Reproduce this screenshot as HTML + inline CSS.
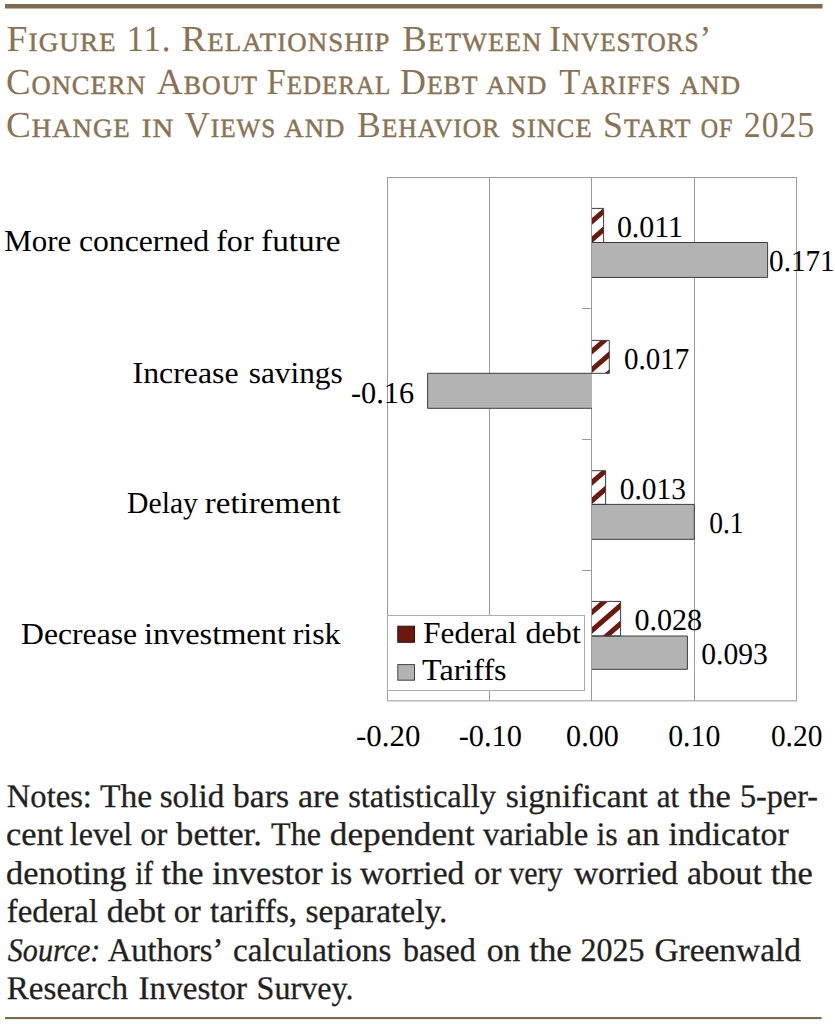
<!DOCTYPE html>
<html lang="en"><head><meta charset="utf-8"><title>Figure 11</title>
<style>
html,body{margin:0;padding:0;background:#fff;}
body{width:835px;height:1024px;overflow:hidden;font-family:"Liberation Serif",serif;}
svg{display:block;position:absolute;left:0;top:0;}
text{font-family:"Liberation Serif",serif;white-space:pre;text-rendering:geometricPrecision;}
.t{fill:#8a7352;}
.n{fill:#231f20;font-size:33px;stroke:#231f20;stroke-width:0.3px;}
.c{fill:#000;font-size:30.4px;}
</style></head><body>
<svg width="835" height="1024" viewBox="0 0 835 1024">
<rect x="0" y="0" width="835" height="1024" fill="#ffffff"/>
<rect x="5" y="4" width="817.5" height="4.5" fill="#7f6a4c"/>
<rect x="5" y="1017" width="816.6" height="2.1" fill="#7f6a4c"/>
<text class="t" x="6.6" y="50.7" letter-spacing="1" textLength="110.0" lengthAdjust="spacingAndGlyphs"><tspan font-size="36.6">F</tspan><tspan font-size="26.3" stroke="#8a7352" stroke-width="0.45">IGURE</tspan></text>
<text class="t" x="126.4" y="50.7" letter-spacing="1" textLength="45.1" lengthAdjust="spacingAndGlyphs"><tspan font-size="36.6">11.</tspan></text>
<text class="t" x="181.3" y="50.7" letter-spacing="1" textLength="209.3" lengthAdjust="spacingAndGlyphs"><tspan font-size="36.6">R</tspan><tspan font-size="26.3" stroke="#8a7352" stroke-width="0.45">ELATIONSHIP</tspan></text>
<text class="t" x="402.3" y="50.7" letter-spacing="1" textLength="139.9" lengthAdjust="spacingAndGlyphs"><tspan font-size="36.6">B</tspan><tspan font-size="26.3" stroke="#8a7352" stroke-width="0.45">ETWEEN</tspan></text>
<text class="t" x="549.2" y="50.7" letter-spacing="1" textLength="162.9" lengthAdjust="spacingAndGlyphs"><tspan font-size="36.6">I</tspan><tspan font-size="26.3" stroke="#8a7352" stroke-width="0.45">NVESTORS</tspan><tspan font-size="36.6">’</tspan></text>
<text class="t" x="5.9" y="93.8" letter-spacing="1" textLength="140.6" lengthAdjust="spacingAndGlyphs"><tspan font-size="36.6">C</tspan><tspan font-size="26.3" stroke="#8a7352" stroke-width="0.45">ONCERN</tspan></text>
<text class="t" x="156.8" y="93.8" letter-spacing="1" textLength="101.3" lengthAdjust="spacingAndGlyphs"><tspan font-size="36.6">A</tspan><tspan font-size="26.3" stroke="#8a7352" stroke-width="0.45">BOUT</tspan></text>
<text class="t" x="266.5" y="93.8" letter-spacing="1" textLength="124.8" lengthAdjust="spacingAndGlyphs"><tspan font-size="36.6">F</tspan><tspan font-size="26.3" stroke="#8a7352" stroke-width="0.45">EDERAL</tspan></text>
<text class="t" x="400.0" y="93.8" letter-spacing="1" textLength="78.5" lengthAdjust="spacingAndGlyphs"><tspan font-size="36.6">D</tspan><tspan font-size="26.3" stroke="#8a7352" stroke-width="0.45">EBT</tspan></text>
<text class="t" x="486.2" y="93.8" letter-spacing="1" textLength="61.2" lengthAdjust="spacingAndGlyphs"><tspan font-size="26.3" stroke="#8a7352" stroke-width="0.45">AND</tspan></text>
<text class="t" x="559.3" y="93.8" letter-spacing="1" textLength="112.0" lengthAdjust="spacingAndGlyphs"><tspan font-size="36.6">T</tspan><tspan font-size="26.3" stroke="#8a7352" stroke-width="0.45">ARIFFS</tspan></text>
<text class="t" x="680.0" y="93.8" letter-spacing="1" textLength="61.1" lengthAdjust="spacingAndGlyphs"><tspan font-size="26.3" stroke="#8a7352" stroke-width="0.45">AND</tspan></text>
<text class="t" x="5.9" y="137.1" letter-spacing="1" textLength="124.8" lengthAdjust="spacingAndGlyphs"><tspan font-size="36.6">C</tspan><tspan font-size="26.3" stroke="#8a7352" stroke-width="0.45">HANGE</tspan></text>
<text class="t" x="141.7" y="137.1" letter-spacing="1" textLength="32.6" lengthAdjust="spacingAndGlyphs"><tspan font-size="26.3" stroke="#8a7352" stroke-width="0.45">IN</tspan></text>
<text class="t" x="184.6" y="137.1" letter-spacing="1" textLength="91.5" lengthAdjust="spacingAndGlyphs"><tspan font-size="36.6">V</tspan><tspan font-size="26.3" stroke="#8a7352" stroke-width="0.45">IEWS</tspan></text>
<text class="t" x="284.3" y="137.1" letter-spacing="1" textLength="61.1" lengthAdjust="spacingAndGlyphs"><tspan font-size="26.3" stroke="#8a7352" stroke-width="0.45">AND</tspan></text>
<text class="t" x="357.1" y="137.1" letter-spacing="1" textLength="143.2" lengthAdjust="spacingAndGlyphs"><tspan font-size="36.6">B</tspan><tspan font-size="26.3" stroke="#8a7352" stroke-width="0.45">EHAVIOR</tspan></text>
<text class="t" x="511.3" y="137.1" letter-spacing="1" textLength="81.2" lengthAdjust="spacingAndGlyphs"><tspan font-size="26.3" stroke="#8a7352" stroke-width="0.45">SINCE</tspan></text>
<text class="t" x="603.1" y="137.1" letter-spacing="1" textLength="88.4" lengthAdjust="spacingAndGlyphs"><tspan font-size="36.6">S</tspan><tspan font-size="26.3" stroke="#8a7352" stroke-width="0.45">TART</tspan></text>
<text class="t" x="700.8" y="137.1" letter-spacing="1" textLength="32.6" lengthAdjust="spacingAndGlyphs"><tspan font-size="26.3" stroke="#8a7352" stroke-width="0.45">OF</tspan></text>
<text class="t" x="743.8" y="137.1" letter-spacing="1" textLength="71.4" lengthAdjust="spacingAndGlyphs"><tspan font-size="36.6">2025</tspan></text>
<rect x="387" y="177" width="410" height="1" fill="#9b9b9b"/>
<rect x="387" y="177" width="1" height="524" fill="#9b9b9b"/>
<rect x="796" y="177" width="1" height="524" fill="#a0a0a0"/>
<rect x="387" y="700.3" width="410" height="1.1" fill="#a0a0a0"/>
<rect x="489" y="177" width="1" height="524" fill="#9b9b9b"/>
<rect x="694" y="177" width="1" height="524" fill="#9b9b9b"/>
<rect x="591" y="177" width="1" height="524" fill="#9b9b9b"/>
<rect x="582" y="308" width="10" height="1" fill="#9b9b9b"/>
<rect x="582" y="439" width="10" height="1" fill="#9b9b9b"/>
<rect x="582" y="570" width="10" height="1" fill="#9b9b9b"/>
<clipPath id="c0"><rect x="592.0" y="208.4" width="11.6" height="34.1"/></clipPath>
<rect x="592.0" y="208.4" width="11.6" height="34.1" fill="#fff"/>
<g clip-path="url(#c0)" stroke="#6e170c" stroke-width="5.0"><line x1="582.0" y1="230.10" x2="652.0" y2="169.20"/><line x1="582.0" y1="248.30" x2="652.0" y2="187.40"/><line x1="582.0" y1="266.50" x2="652.0" y2="205.60"/><line x1="582.0" y1="284.70" x2="652.0" y2="223.80"/></g>
<rect x="592.0" y="242.5" width="175.6" height="34.9" fill="#b3b3b3"/>
<path d="M592.0 242.5H767.6V277.4H592.0" fill="none" stroke="#3c3c3c" stroke-width="1"/>
<path d="M592.0 208.4H603.6V242.5H592.0" fill="none" stroke="#3c3c3c" stroke-width="1"/>
<clipPath id="c1"><rect x="592.0" y="340.4" width="17.3" height="32.9"/></clipPath>
<rect x="592.0" y="340.4" width="17.3" height="32.9" fill="#fff"/>
<g clip-path="url(#c1)" stroke="#6e170c" stroke-width="5.0"><line x1="582.0" y1="360.00" x2="652.0" y2="299.10"/><line x1="582.0" y1="378.20" x2="652.0" y2="317.30"/><line x1="582.0" y1="396.40" x2="652.0" y2="335.50"/><line x1="582.0" y1="414.60" x2="652.0" y2="353.70"/></g>
<rect x="427.6" y="373.3" width="164.4" height="35.0" fill="#b3b3b3"/>
<path d="M592.0 373.3H427.6V408.3H592.0" fill="none" stroke="#3c3c3c" stroke-width="1"/>
<path d="M592.0 340.4H609.3V373.3H592.0" fill="none" stroke="#3c3c3c" stroke-width="1"/>
<clipPath id="c2"><rect x="592.0" y="470.7" width="13.6" height="33.7"/></clipPath>
<rect x="592.0" y="470.7" width="13.6" height="33.7" fill="#fff"/>
<g clip-path="url(#c2)" stroke="#6e170c" stroke-width="5.0"><line x1="582.0" y1="491.10" x2="652.0" y2="430.20"/><line x1="582.0" y1="509.30" x2="652.0" y2="448.40"/><line x1="582.0" y1="527.50" x2="652.0" y2="466.60"/><line x1="582.0" y1="545.70" x2="652.0" y2="484.80"/></g>
<rect x="592.0" y="504.4" width="102.3" height="34.9" fill="#b3b3b3"/>
<path d="M592.0 504.4H694.3V539.3H592.0" fill="none" stroke="#3c3c3c" stroke-width="1"/>
<path d="M592.0 470.7H605.6V504.4H592.0" fill="none" stroke="#3c3c3c" stroke-width="1"/>
<clipPath id="c3"><rect x="592.0" y="601.4" width="28.6" height="34.6"/></clipPath>
<rect x="592.0" y="601.4" width="28.6" height="34.6" fill="#fff"/>
<g clip-path="url(#c3)" stroke="#6e170c" stroke-width="5.0"><line x1="582.0" y1="620.90" x2="652.0" y2="560.00"/><line x1="582.0" y1="639.10" x2="652.0" y2="578.20"/><line x1="582.0" y1="657.30" x2="652.0" y2="596.40"/><line x1="582.0" y1="675.50" x2="652.0" y2="614.60"/></g>
<rect x="592.0" y="636.0" width="95.4" height="33.3" fill="#b3b3b3"/>
<path d="M592.0 636.0H687.4V669.3H592.0" fill="none" stroke="#3c3c3c" stroke-width="1"/>
<path d="M592.0 601.4H620.6V636.0H592.0" fill="none" stroke="#3c3c3c" stroke-width="1"/>
<rect x="387.5" y="615.5" width="197" height="75" fill="#fff" stroke="#ababab" stroke-width="1"/>
<rect x="397.8" y="626.2" width="16.7" height="16.1" fill="#6e170c" stroke="#2b1512" stroke-width="1"/>
<rect x="397.8" y="664.6" width="16.7" height="15.6" fill="#b3b3b3" stroke="#444" stroke-width="1"/>
<text class="c" x="423.3" y="642.7" textLength="93.4" lengthAdjust="spacingAndGlyphs">Federal</text>
<text class="c" x="525.6" y="642.7" textLength="55.2" lengthAdjust="spacingAndGlyphs">debt</text>
<text class="c" x="422.0" y="679.9" textLength="84.6" lengthAdjust="spacingAndGlyphs">Tariffs</text>
<text class="c" x="4.3" y="251.0" textLength="67.0" lengthAdjust="spacingAndGlyphs">More</text>
<text class="c" x="78.9" y="251.0" textLength="130.3" lengthAdjust="spacingAndGlyphs">concerned</text>
<text class="c" x="216.2" y="251.0" textLength="37.4" lengthAdjust="spacingAndGlyphs">for</text>
<text class="c" x="261.1" y="251.0" textLength="79.5" lengthAdjust="spacingAndGlyphs">future</text>
<text class="c" x="132.6" y="383.0" textLength="105.9" lengthAdjust="spacingAndGlyphs">Increase</text>
<text class="c" x="248.7" y="383.0" textLength="94.0" lengthAdjust="spacingAndGlyphs">savings</text>
<text class="c" x="127.1" y="513.0" textLength="70.8" lengthAdjust="spacingAndGlyphs">Delay</text>
<text class="c" x="204.7" y="513.0" textLength="135.9" lengthAdjust="spacingAndGlyphs">retirement</text>
<text class="c" x="21.1" y="644.4" textLength="116.0" lengthAdjust="spacingAndGlyphs">Decrease</text>
<text class="c" x="143.9" y="644.4" textLength="142.0" lengthAdjust="spacingAndGlyphs">investment</text>
<text class="c" x="292.7" y="644.4" textLength="47.9" lengthAdjust="spacingAndGlyphs">risk</text>
<text class="c" x="616.9" y="237.3" textLength="66.2" lengthAdjust="spacingAndGlyphs">0.011</text>
<text class="c" x="769.1" y="270.5" textLength="65.6" lengthAdjust="spacingAndGlyphs">0.171</text>
<text class="c" x="623.9" y="368.6" textLength="65.4" lengthAdjust="spacingAndGlyphs">0.017</text>
<text class="c" x="351.0" y="402.5" textLength="63.2" lengthAdjust="spacingAndGlyphs">-0.16</text>
<text class="c" x="619.8" y="498.8" textLength="66.2" lengthAdjust="spacingAndGlyphs">0.013</text>
<text class="c" x="709.2" y="532.9" textLength="34.4" lengthAdjust="spacingAndGlyphs">0.1</text>
<text class="c" x="634.4" y="629.9" textLength="67.8" lengthAdjust="spacingAndGlyphs">0.028</text>
<text class="c" x="701.3" y="664.4" textLength="66.6" lengthAdjust="spacingAndGlyphs">0.093</text>
<text class="c" x="356.0" y="745.5" textLength="64.4" lengthAdjust="spacingAndGlyphs">-0.20</text>
<text class="c" x="458.7" y="745.5" textLength="63.2" lengthAdjust="spacingAndGlyphs">-0.10</text>
<text class="c" x="566.1" y="745.5" textLength="52.7" lengthAdjust="spacingAndGlyphs">0.00</text>
<text class="c" x="668.2" y="745.5" textLength="52.1" lengthAdjust="spacingAndGlyphs">0.10</text>
<text class="c" x="770.9" y="745.5" textLength="51.5" lengthAdjust="spacingAndGlyphs">0.20</text>
<text class="n" x="6.8" y="806.5" textLength="85.1" lengthAdjust="spacingAndGlyphs">Notes:</text>
<text class="n" x="100.0" y="806.5" textLength="52.2" lengthAdjust="spacingAndGlyphs">The</text>
<text class="n" x="159.7" y="806.5" textLength="64.6" lengthAdjust="spacingAndGlyphs">solid</text>
<text class="n" x="233.1" y="806.5" textLength="55.9" lengthAdjust="spacingAndGlyphs">bars</text>
<text class="n" x="297.9" y="806.5" textLength="41.4" lengthAdjust="spacingAndGlyphs">are</text>
<text class="n" x="348.2" y="806.5" textLength="147.8" lengthAdjust="spacingAndGlyphs">statistically</text>
<text class="n" x="505.8" y="806.5" textLength="142.1" lengthAdjust="spacingAndGlyphs">significant</text>
<text class="n" x="656.7" y="806.5" textLength="22.4" lengthAdjust="spacingAndGlyphs">at</text>
<text class="n" x="688.6" y="806.5" textLength="42.1" lengthAdjust="spacingAndGlyphs">the</text>
<text class="n" x="739.9" y="806.5" textLength="78.1" lengthAdjust="spacingAndGlyphs">5-per-</text>
<text class="n" x="6.1" y="845.1" textLength="57.2" lengthAdjust="spacingAndGlyphs">cent</text>
<text class="n" x="69.8" y="845.1" textLength="62.3" lengthAdjust="spacingAndGlyphs">level</text>
<text class="n" x="140.2" y="845.1" textLength="27.1" lengthAdjust="spacingAndGlyphs">or</text>
<text class="n" x="176.1" y="845.1" textLength="85.8" lengthAdjust="spacingAndGlyphs">better.</text>
<text class="n" x="271.1" y="845.1" textLength="49.8" lengthAdjust="spacingAndGlyphs">The</text>
<text class="n" x="329.8" y="845.1" textLength="144.7" lengthAdjust="spacingAndGlyphs">dependent</text>
<text class="n" x="483.0" y="845.1" textLength="105.2" lengthAdjust="spacingAndGlyphs">variable</text>
<text class="n" x="596.4" y="845.1" textLength="21.3" lengthAdjust="spacingAndGlyphs">is</text>
<text class="n" x="626.6" y="845.1" textLength="33.0" lengthAdjust="spacingAndGlyphs">an</text>
<text class="n" x="668.5" y="845.1" textLength="120.2" lengthAdjust="spacingAndGlyphs">indicator</text>
<text class="n" x="6.1" y="883.6" textLength="120.3" lengthAdjust="spacingAndGlyphs">denoting</text>
<text class="n" x="135.2" y="883.6" textLength="18.0" lengthAdjust="spacingAndGlyphs">if</text>
<text class="n" x="161.4" y="883.6" textLength="42.1" lengthAdjust="spacingAndGlyphs">the</text>
<text class="n" x="212.3" y="883.6" textLength="110.3" lengthAdjust="spacingAndGlyphs">investor</text>
<text class="n" x="330.8" y="883.6" textLength="21.3" lengthAdjust="spacingAndGlyphs">is</text>
<text class="n" x="359.9" y="883.6" textLength="104.5" lengthAdjust="spacingAndGlyphs">worried</text>
<text class="n" x="474.0" y="883.6" textLength="27.3" lengthAdjust="spacingAndGlyphs">or</text>
<text class="n" x="509.2" y="883.6" textLength="53.2" lengthAdjust="spacingAndGlyphs">very</text>
<text class="n" x="573.9" y="883.6" textLength="104.2" lengthAdjust="spacingAndGlyphs">worried</text>
<text class="n" x="686.9" y="883.6" textLength="75.0" lengthAdjust="spacingAndGlyphs">about</text>
<text class="n" x="770.8" y="883.6" textLength="42.1" lengthAdjust="spacingAndGlyphs">the</text>
<text class="n" x="6.8" y="922.2" textLength="91.1" lengthAdjust="spacingAndGlyphs">federal</text>
<text class="n" x="106.7" y="922.2" textLength="58.9" lengthAdjust="spacingAndGlyphs">debt</text>
<text class="n" x="173.8" y="922.2" textLength="27.0" lengthAdjust="spacingAndGlyphs">or</text>
<text class="n" x="210.0" y="922.2" textLength="87.2" lengthAdjust="spacingAndGlyphs">tariffs,</text>
<text class="n" x="305.6" y="922.2" textLength="141.8" lengthAdjust="spacingAndGlyphs">separately.</text>
<text class="n" x="7.8" y="960.7" font-style="italic" textLength="92.5" lengthAdjust="spacingAndGlyphs">Source:</text>
<text class="n" x="107.7" y="960.7" textLength="115.6" lengthAdjust="spacingAndGlyphs">Authors’</text>
<text class="n" x="233.1" y="960.7" textLength="158.2" lengthAdjust="spacingAndGlyphs">calculations</text>
<text class="n" x="402.9" y="960.7" textLength="72.9" lengthAdjust="spacingAndGlyphs">based</text>
<text class="n" x="486.7" y="960.7" textLength="33.7" lengthAdjust="spacingAndGlyphs">on</text>
<text class="n" x="529.3" y="960.7" textLength="42.5" lengthAdjust="spacingAndGlyphs">the</text>
<text class="n" x="580.6" y="960.7" textLength="63.9" lengthAdjust="spacingAndGlyphs">2025</text>
<text class="n" x="654.4" y="960.7" textLength="146.7" lengthAdjust="spacingAndGlyphs">Greenwald</text>
<text class="n" x="6.8" y="999.3" textLength="121.2" lengthAdjust="spacingAndGlyphs">Research</text>
<text class="n" x="138.6" y="999.3" textLength="108.5" lengthAdjust="spacingAndGlyphs">Investor</text>
<text class="n" x="256.6" y="999.3" textLength="96.9" lengthAdjust="spacingAndGlyphs">Survey.</text>
</svg>
</body></html>
